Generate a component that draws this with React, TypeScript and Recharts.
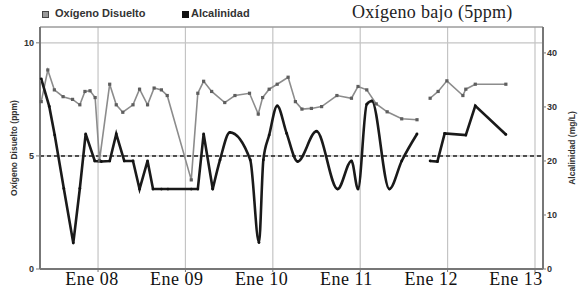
import {
  LineChart,
  Line,
  XAxis,
  YAxis,
  CartesianGrid,
  ReferenceLine,
} from "recharts";

// meses contados desde Ene 2007
const mesesOxigeno = [
  4.2, 5.1, 6.0, 7.2, 8.5, 9.5, 10.2, 10.9, 11.6, 12.2,
  13.6, 14.5, 15.4, 16.8, 17.7, 18.8, 19.7, 20.7, 21.5, 24.8,
  25.7, 26.5, 27.6, 29.4, 30.8, 32.8, 34.0, 34.6, 35.5, 36.6,
  38.1, 39.1, 40.0, 41.3, 42.7, 44.8, 46.8, 47.7, 48.9, 50.2,
  51.7, 53.7, 55.8, 56.7, 57.6, 58.7, 59.9, 62.1, 62.5, 63.8,
  68.0,
];
const oxigeno = [
  7.4, 8.8, 7.92, 7.62, 7.5, 7.26, 7.85, 7.88, 7.58, 4.8,
  8.17, 7.26, 6.93, 7.26, 7.95, 7.26, 8.0, 7.92, 7.67, 3.94,
  7.77, 8.3, 7.85, 7.36, 7.67, 7.77, 6.85, 7.58, 7.95, 8.17,
  8.48, 7.4, 7.07, 7.1, 7.18, 7.67, 7.55, 8.07, 7.92, 7.3,
  6.95, 6.64, 6.6, null, 7.55, 7.85, 8.32, 7.67, 7.95, 8.17,
  8.17,
];

const mesesAlcalinidad = [
  4.2, 5.3, 6.05, 7.3, 8.6, 9.5, 10.3, 11.55, 12.45, 13.6,
  14.5, 15.6, 16.8, 17.7, 18.8, 19.55, 20.7, 21.6, 24.8, 25.7,
  26.5, 27.75, 28.75, 30.1, 32.9, 34.1, 34.7, 35.5, 36.6, 37.9,
  39.4, 42.0, 44.9, 46.8, 47.7, 48.9, 49.6, 52.0, 53.7, 55.8,
  56.7, 57.6, 58.6, 59.6, 62.5, 63.8, 68.0,
];
const alcalinidad = [
  35.2, 30.1, 24.8, 14.9, 4.8, 14.9, 25, 20, 19.9, 20,
  25, 20, 20, 14.8, 20, 14.8, 14.8, 14.8, 14.8, 14.8,
  25, 14.8, 20.2, 25.3, 20.2, 4.9, 20.2, 24.8, 30.2, 25.1,
  19.9, 25.5, 14.8, 20, 14.8, 30.5, 31.1, 14.8, 20, 25,
  null, 20, 19.9, 25.1, 24.8, 30.2, 24.9,
];

// tramos de la curva de alcalinidad: recto al inicio y al final, suavizado en el medio
const tramosAlcalinidad: { desde: number; hasta: number; tipo: "linear" | "monotone" }[] = [
  { desde: 0, hasta: 21, tipo: "linear" },
  { desde: 21, hasta: 39, tipo: "monotone" },
  { desde: 41, hasta: 46, tipo: "linear" },
];

const ticksMes = [12, 24, 36, 48, 60, 72];
const etiquetasAnios = ["Ene 08", "Ene 09", "Ene 10", "Ene 11", "Ene 12", "Ene 13"];

const ticksOxigeno = [0, 5, 10];
const ticksAlcalinidad = [0, 10, 20, 30, 40];
const limiteOxigeno = 5;

const datosOxigeno = mesesOxigeno.map((m, i) => ({ mes: m, oxigeno: oxigeno[i] }));
const datosAlcalinidad = mesesAlcalinidad.map((m, i) => ({ mes: m, alcalinidad: alcalinidad[i] }));

const sans = "'Liberation Sans', Arial, sans-serif";
const serif = "'Liberation Serif', 'DejaVu Serif', serif";

function PuntoCuadrado(props: any) {
  const { cx, cy, index } = props;
  if (cx == null || cy == null || props.value == null) return <g key={index} />;
  return <rect key={index} x={cx - 1.6} y={cy - 1.6} width={3.2} height={3.2} fill="#5e5e5e" />;
}

// las etiquetas del original quedan algo corridas a la izquierda de cada marca
function TickAnio(props: any) {
  const { x, y, payload, index } = props;
  const i = ticksMes.indexOf(payload.value);
  const corrimiento = -6 - (i < 0 ? index : i) * 2.6;
  return (
    <text
      x={x + corrimiento}
      y={y}
      dy="0.71em"
      textAnchor="middle"
      style={{ fontFamily: serif, fontSize: 18, fill: "#111", letterSpacing: 0.5 }}
    >
      {etiquetasAnios[i]}
    </text>
  );
}

// etiqueta vertical de eje, centrada en la caja del eje
function etiquetaEje(texto: string, desde: "izq" | "der") {
  return (p: any) => {
    const vb = p.viewBox || {};
    const x = desde === "izq" ? vb.x + 14 : vb.x + vb.width - 12;
    const y = vb.y + vb.height / 2;
    return (
      <text
        x={x}
        y={y}
        transform={`rotate(-90, ${x}, ${y})`}
        textAnchor="middle"
        dominantBaseline="central"
        style={{ fontFamily: sans, fontWeight: "bold", fontSize: 8.5, fill: "#333" }}
      >
        {texto}
      </text>
    );
  };
}

function Leyenda() {
  return (
    <div style={{ position: "absolute", left: 0, top: 0, width: 584, height: 27, pointerEvents: "none" }}>
      <div style={{ position: "absolute", left: 42, top: 11, width: 5, height: 5, background: "#999", border: "1px solid #444" }} />
      <div style={{ position: "absolute", left: 55, top: 7, fontFamily: sans, fontWeight: "bold", fontSize: 11, color: "#333" }}>
        Oxígeno Disuelto
      </div>
      <div style={{ position: "absolute", left: 182, top: 11, width: 7, height: 7, background: "#111" }} />
      <div style={{ position: "absolute", left: 191, top: 7, fontFamily: sans, fontWeight: "bold", fontSize: 11, color: "#333" }}>
        Alcalinidad
      </div>
      <div style={{ position: "absolute", left: 352, top: 2, fontFamily: serif, fontSize: 18, color: "#222", letterSpacing: 0.3 }}>
        Oxígeno bajo (5ppm)
      </div>
    </div>
  );
}

export default function App() {
  return (
    <div style={{ position: "absolute", left: 0, top: 0, width: 584, height: 295, background: "#fff" }}>
      <LineChart width={584} height={295} margin={{ top: 27, right: 0, left: 0, bottom: 0 }}>
        <CartesianGrid yAxisId="ox" stroke="#c4c4c4" strokeWidth={1.2} />
        <XAxis
          dataKey="mes"
          type="number"
          domain={[4.03, 73.1]}
          ticks={ticksMes}
          allowDuplicatedCategory={false}
          height={26}
          tickSize={3}
          tickMargin={0}
          axisLine={{ stroke: "#777", strokeWidth: 2 }}
          tickLine={{ stroke: "#777" }}
          tick={<TickAnio />}
        />
        <YAxis
          yAxisId="ox"
          orientation="left"
          width={40}
          domain={[0, 10.7]}
          ticks={ticksOxigeno}
          tickSize={4}
          tickMargin={2}
          axisLine={{ stroke: "#777", strokeWidth: 2 }}
          tickLine={{ stroke: "#777" }}
          tick={{ fontFamily: sans, fontWeight: "bold", fontSize: 9, fill: "#333" }}
          label={{ content: etiquetaEje("Oxígeno Disuelto (ppm)", "izq") }}
        />
        <YAxis
          yAxisId="alc"
          orientation="right"
          width={41}
          domain={[0, 44.8]}
          ticks={ticksAlcalinidad}
          tickSize={3}
          tickMargin={1}
          axisLine={{ stroke: "#777", strokeWidth: 2 }}
          tickLine={{ stroke: "#777" }}
          tick={{ fontFamily: sans, fontWeight: "bold", fontSize: 9, fill: "#333" }}
          label={{ content: etiquetaEje("Alcalinidad (mg/L)", "der") }}
        />
        <ReferenceLine yAxisId="ox" y={10.7} stroke="#888" strokeWidth={1} />
        <ReferenceLine yAxisId="ox" y={limiteOxigeno} stroke="#222" strokeWidth={1.5} strokeDasharray="4 3" />
        <Line
          yAxisId="ox"
          data={datosOxigeno}
          dataKey="oxigeno"
          type="linear"
          stroke="#8c8c8c"
          strokeWidth={1.6}
          dot={PuntoCuadrado}
          activeDot={false}
          isAnimationActive={false}
        />
        {tramosAlcalinidad.map((t, k) => (
          <Line
            key={k}
            yAxisId="alc"
            data={datosAlcalinidad.slice(t.desde, t.hasta + 1)}
            dataKey="alcalinidad"
            type={t.tipo}
            stroke="#1a1a1a"
            strokeWidth={2.6}
            dot={{ r: 1.4, fill: "#111", stroke: "none" }}
            activeDot={false}
            isAnimationActive={false}
          />
        ))}
      </LineChart>
      <Leyenda />
    </div>
  );
}
